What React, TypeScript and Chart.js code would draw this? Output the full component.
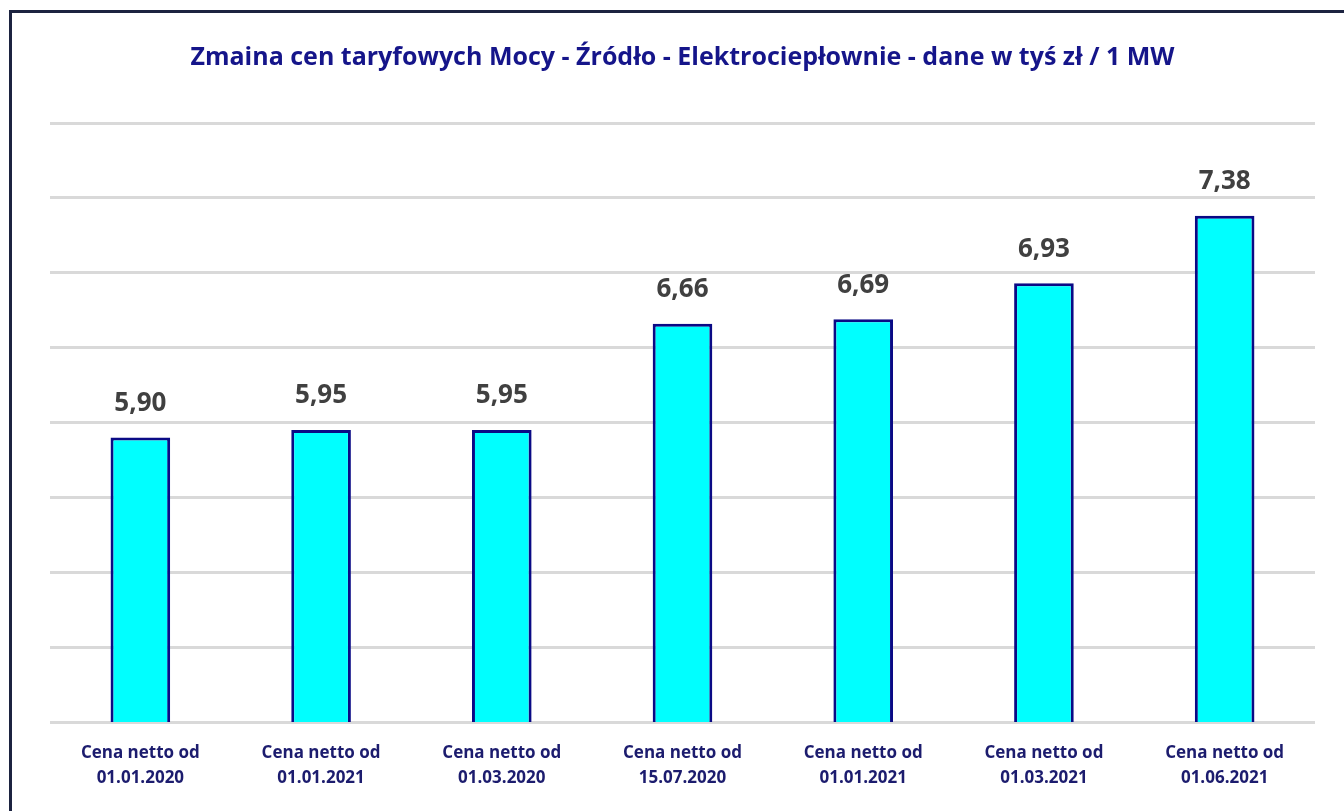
import React, { useEffect, useRef } from "react";
import { Chart, registerables } from "chart.js";

Chart.register(...registerables);

const titleText = "Zmaina cen taryfowych Mocy - Źródło - Elektrociepłownie - dane w tyś zł / 1 MW";
const categories: string[][] = [
  ["Cena netto od", "01.01.2020"],
  ["Cena netto od", "01.01.2021"],
  ["Cena netto od", "01.03.2020"],
  ["Cena netto od", "15.07.2020"],
  ["Cena netto od", "01.01.2021"],
  ["Cena netto od", "01.03.2021"],
  ["Cena netto od", "01.06.2021"],
];
const values: number[] = [5.9, 5.95, 5.95, 6.66, 6.69, 6.93, 7.38];
const yMin = 4;
const yMax = 8;
const yStep = 0.5;

const FONT = "'Open Sans', Lato, sans-serif";

const valueLabels = {
  id: "valueLabels",
  afterDatasetsDraw(chart: any) {
    const ctx = chart.ctx;
    const meta = chart.getDatasetMeta(0);
    ctx.save();
    ctx.font = `bold 26px ${FONT}`;
    ctx.fillStyle = "#404040";
    ctx.textAlign = "center";
    ctx.textBaseline = "middle";
    meta.data.forEach((el: any, i: number) => {
      const v = values[i];
      ctx.fillText(v.toFixed(2).replace(".", ","), el.x, el.y - 34);
    });
    ctx.restore();
  },
};

export default function App() {
  const ref = useRef<HTMLCanvasElement | null>(null);
  useEffect(() => {
    if (!ref.current) return;
    const chart = new Chart(ref.current, {
      type: "bar",
      data: {
        labels: categories,
        datasets: [
          {
            data: values,
            backgroundColor: "#00FFFF",
            borderColor: "#0A0A85",
            borderWidth: 3,
            borderSkipped: false,
            barPercentage: 0.66,
            categoryPercentage: 0.5,
          },
        ],
      },
      options: {
        animation: false,
        responsive: false,
        maintainAspectRatio: false,
        layout: { padding: { left: 50, right: 29, top: 0, bottom: 0 } },
        plugins: {
          legend: { display: false },
          tooltip: { enabled: false },
          title: {
            display: true,
            text: titleText,
            color: "#15158A",
            font: { family: FONT, size: 25, weight: "bold", lineHeight: 1.2 },
            padding: { top: 43, bottom: 50 },
          },
        },
        scales: {
          x: {
            grid: { display: false },
            border: { display: false },
            ticks: {
              color: "#1C1C6E",
              font: { family: FONT, size: 17, weight: "bold", lineHeight: 1.45 },
              padding: 11,
              maxRotation: 0,
              autoSkip: false,
            },
            afterFit: (scale: any) => {
              scale.height = 89;
            },
          },
          y: {
            min: yMin,
            max: yMax,
            ticks: { display: false, stepSize: yStep },
            grid: { color: "#D9D9D9", lineWidth: 3, drawTicks: false },
            border: { display: false },
            afterFit: (scale: any) => {
              scale.width = 0;
            },
          },
        },
      },
      plugins: [valueLabels],
    });
    return () => chart.destroy();
  }, []);

  return (
    <div style={{ position: "fixed", left: 0, top: 0, width: 1344, height: 811, background: "#FFFFFF", overflow: "hidden" }}>
      <div
        style={{
          position: "absolute",
          left: 9,
          top: 10,
          width: 1400,
          height: 900,
          border: "3px solid #1C2340",
          boxSizing: "border-box",
        }}
      />
      <canvas ref={ref} width={1344} height={811} style={{ position: "absolute", left: 0, top: 0, width: 1344, height: 811 }} />
    </div>
  );
}
